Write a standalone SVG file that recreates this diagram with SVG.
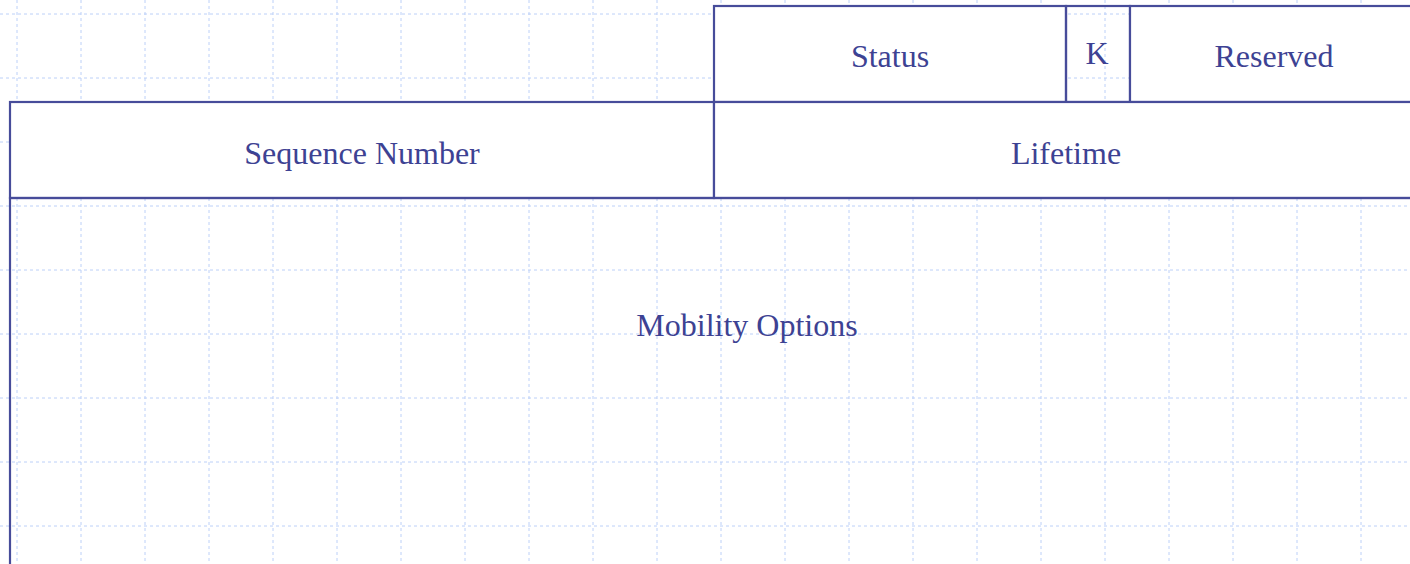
<svg xmlns="http://www.w3.org/2000/svg" width="1410" height="564" viewBox="0 0 1410 564">
<style>
.grid line{stroke:#bcd0f8;stroke-width:1;stroke-dasharray:3,3}
.box{stroke:#474c9a;stroke-width:2.2}
.w{fill:#ffffff}
.t{fill:none}
.lbl{font-family:"Liberation Serif","Times New Roman",serif;font-size:32px;fill:#3d4293;text-anchor:middle}
</style>
<rect x="0" y="0" width="1410" height="564" fill="#ffffff"/>
<g class="grid">
<line x1="0" y1="14" x2="1410" y2="14"/>
<line x1="0" y1="78" x2="1410" y2="78"/>
<line x1="0" y1="142" x2="1410" y2="142"/>
<line x1="0" y1="206" x2="1410" y2="206"/>
<line x1="0" y1="270" x2="1410" y2="270"/>
<line x1="0" y1="334" x2="1410" y2="334"/>
<line x1="0" y1="398" x2="1410" y2="398"/>
<line x1="0" y1="462" x2="1410" y2="462"/>
<line x1="0" y1="526" x2="1410" y2="526"/>
<line x1="17" y1="0" x2="17" y2="564"/>
<line x1="81" y1="0" x2="81" y2="564"/>
<line x1="145" y1="0" x2="145" y2="564"/>
<line x1="209" y1="0" x2="209" y2="564"/>
<line x1="273" y1="0" x2="273" y2="564"/>
<line x1="337" y1="0" x2="337" y2="564"/>
<line x1="401" y1="0" x2="401" y2="564"/>
<line x1="465" y1="0" x2="465" y2="564"/>
<line x1="529" y1="0" x2="529" y2="564"/>
<line x1="593" y1="0" x2="593" y2="564"/>
<line x1="657" y1="0" x2="657" y2="564"/>
<line x1="721" y1="0" x2="721" y2="564"/>
<line x1="785" y1="0" x2="785" y2="564"/>
<line x1="849" y1="0" x2="849" y2="564"/>
<line x1="913" y1="0" x2="913" y2="564"/>
<line x1="977" y1="0" x2="977" y2="564"/>
<line x1="1041" y1="0" x2="1041" y2="564"/>
<line x1="1105" y1="0" x2="1105" y2="564"/>
<line x1="1169" y1="0" x2="1169" y2="564"/>
<line x1="1233" y1="0" x2="1233" y2="564"/>
<line x1="1297" y1="0" x2="1297" y2="564"/>
<line x1="1361" y1="0" x2="1361" y2="564"/>
</g>
<g id="status">
<rect class="box w" x="714" y="6" width="352" height="96"/>
<text class="lbl" x="890" y="67">Status</text>
</g>
<g id="k">
<rect class="box t" x="1066" y="6" width="64" height="96"/>
<text class="lbl" x="1097" y="64">K</text>
</g>
<g id="reserved">
<rect class="box w" x="1130" y="6" width="290" height="96"/>
<text class="lbl" x="1274" y="67">Reserved</text>
</g>
<g id="sequence-number">
<rect class="box w" x="10" y="102" width="704" height="96"/>
<text class="lbl" x="362" y="164">Sequence Number</text>
</g>
<g id="lifetime">
<rect class="box w" x="714" y="102" width="706" height="96"/>
<text class="lbl" x="1066" y="164">Lifetime</text>
</g>
<g id="mobility-options">
<rect class="box t" x="10" y="198" width="1410" height="380"/>
<text class="lbl" x="747" y="336">Mobility Options</text>
</g>
<g id="connectors"></g>
</svg>
